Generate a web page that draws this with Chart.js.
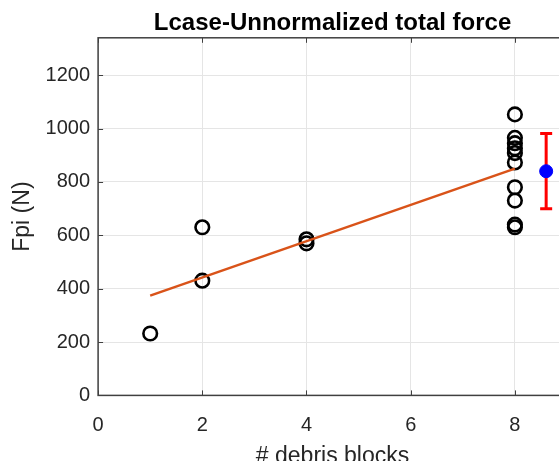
<!DOCTYPE html>
<html>
<head>
<meta charset="utf-8">
<script src="https://cdn.jsdelivr.net/npm/chart.js@4.4.0/dist/chart.umd.min.js"></script>
<style>
  body { margin: 0; overflow: hidden; background: #fff; }
  #wrap { width: 580px; height: 472px; position: relative; }
</style>
</head>
<body>
<div id="wrap"><canvas id="forceChart"></canvas></div>
<script>
// measured force per run, grouped by number of debris blocks
var blocks = [1, 2, 2, 4, 4, 8, 8, 8, 8, 8, 8, 8, 8, 8, 8];
var force  = [232, 630, 430, 585, 570, 1053, 965, 945, 926, 908, 873, 780, 730, 640, 630];

// linear fit end points
var fitX = [1, 8];
var fitY = [374, 850];

// mean and spread at the right edge
var errX = [8.6];
var errMean = [840];
var errLow = [699];
var errHigh = [981];

var xTicks = [0, 2, 4, 6, 8];
var yTicks = [0, 200, 400, 600, 800, 1000, 1200];

function toPoints(xs, ys) {
  var pts = [];
  for (var i = 0; i < xs.length; i++) pts.push({ x: xs[i], y: ys[i] });
  return pts;
}

var textColor = "#262626";
var fontFamily = "'Liberation Sans', Arial, sans-serif";

// box around the axes (with inward ticks) and the red error bar
var boxPlugin = {
  id: "boxPlugin",
  beforeDatasetsDraw: function(chart) {
    var ctx = chart.ctx;
    var xs = chart.scales.x, ys = chart.scales.y;
    ctx.save();
    ctx.strokeStyle = "#ff0000";
    ctx.lineWidth = 3;
    for (var i = 0; i < errX.length; i++) {
      var px = xs.getPixelForValue(errX[i]);
      var top = ys.getPixelForValue(errHigh[i]);
      var bot = ys.getPixelForValue(errLow[i]);
      ctx.beginPath();
      ctx.moveTo(px, top); ctx.lineTo(px, bot);
      ctx.moveTo(px - 6, top); ctx.lineTo(px + 6, top);
      ctx.moveTo(px - 6, bot); ctx.lineTo(px + 6, bot);
      ctx.stroke();
    }
    ctx.restore();
  },
  afterDraw: function(chart) {
    var a = chart.chartArea, ctx = chart.ctx;
    var xs = chart.scales.x, ys = chart.scales.y;
    ctx.save();
    ctx.strokeStyle = "#404040";
    ctx.lineWidth = 1.5;
    ctx.strokeRect(a.left, a.top, a.right - a.left, a.bottom - a.top);
    ctx.lineWidth = 1;
    ctx.beginPath();
    xTicks.forEach(function(v) {
      var px = Math.round(xs.getPixelForValue(v)) + 0.5;
      ctx.moveTo(px, a.bottom); ctx.lineTo(px, a.bottom - 5);
      ctx.moveTo(px, a.top); ctx.lineTo(px, a.top + 5);
    });
    yTicks.forEach(function(v) {
      var py = Math.round(ys.getPixelForValue(v)) + 0.5;
      ctx.moveTo(a.left, py); ctx.lineTo(a.left + 5, py);
    });
    ctx.stroke();
    ctx.restore();
  }
};

var ctx = document.getElementById("forceChart").getContext("2d");
new Chart(ctx, {
  type: "scatter",
  data: {
    datasets: [
      {
        type: "line",
        data: toPoints(fitX, fitY),
        borderColor: "#D95319",
        borderWidth: 2.5,
        pointRadius: 0,
        fill: false,
        order: 0
      },
      {
        data: toPoints(errX, errMean),
        backgroundColor: "#0000ff",
        borderColor: "#0000ff",
        pointRadius: 6.5,
        order: 1
      },
      {
        data: toPoints(blocks, force),
        backgroundColor: "rgba(0,0,0,0)",
        borderColor: "#000000",
        borderWidth: 2.6,
        pointRadius: 6.8,
        order: 2
      }
    ]
  },
  options: {
    responsive: true,
    maintainAspectRatio: false,
    animation: false,
    layout: { padding: { left: 9, right: 13, top: 0, bottom: 2 } },
    plugins: {
      legend: { display: false },
      tooltip: { enabled: false },
      title: {
        display: true,
        text: "Lcase-Unnormalized total force",
        fullSize: false,
        color: "#000",
        font: { family: fontFamily, size: 24, weight: "bold" },
        padding: { top: 9, bottom: 0 }
      }
    },
    scales: {
      x: {
        type: "linear",
        min: 0,
        max: 9,
        afterBuildTicks: function(axis) {
          axis.ticks = xTicks.map(function(v) { return { value: v }; });
        },
        grid: { color: "#e5e5e5", drawTicks: false },
        border: { display: false },
        ticks: {
          color: textColor, font: { family: fontFamily, size: 20 }, padding: 18, maxRotation: 0,
          callback: function(v) { return String(v); }
        },
        title: {
          display: true,
          text: "# debris blocks",
          color: textColor,
          font: { family: fontFamily, size: 23 },
          padding: { top: -13, bottom: 0 }
        }
      },
      y: {
        type: "linear",
        min: 0,
        max: 1340,
        afterBuildTicks: function(axis) {
          axis.ticks = yTicks.map(function(v) { return { value: v }; });
        },
        grid: { color: "#e5e5e5", drawTicks: false },
        border: { display: false },
        ticks: {
          color: textColor, font: { family: fontFamily, size: 20 }, padding: 8,
          callback: function(v) { return String(v); }
        },
        title: {
          display: true,
          text: "Fpi (N)",
          color: textColor,
          font: { family: fontFamily, size: 23 },
          padding: { top: 0, bottom: 1 }
        }
      }
    }
  },
  plugins: [boxPlugin]
});
</script>
</body>
</html>
